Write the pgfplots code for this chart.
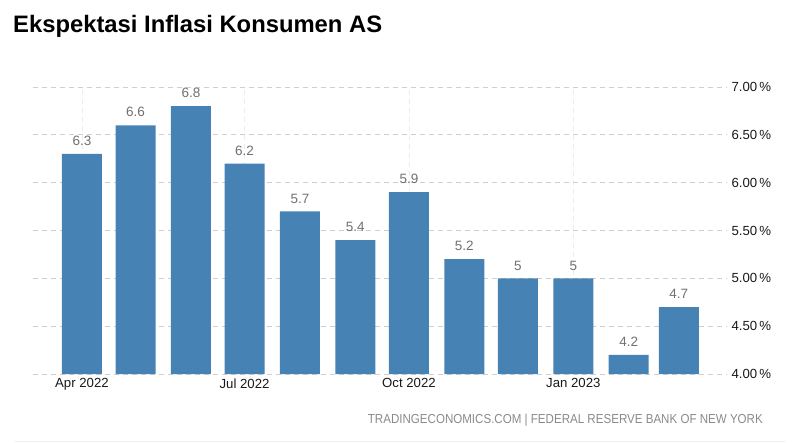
\documentclass[border=0pt]{standalone}
\usepackage{pgfplots}
\pgfplotsset{compat=1.18}
\usepackage{fontspec}
\setmainfont{Liberation Sans}
\definecolor{barblue}{HTML}{4682B4}
\definecolor{gridgray}{HTML}{CFCFCF}
\definecolor{vgridgray}{HTML}{ECECEC}
\definecolor{lblgray}{HTML}{707070}
\definecolor{srcgray}{HTML}{8A8A8A}
\begin{document}
\begin{tikzpicture}[x=1pt,y=1pt]
\path[use as bounding box] (0,0) rectangle (800,442);
\node[anchor=base west, inner sep=0pt, font=\fontsize{23.8}{28}\selectfont\bfseries] at (13,409) {Ekspektasi Inflasi Konsumen AS};
\begin{axis}[
  at={(33pt,68pt)}, anchor=south west,
  scale only axis, width=694pt, height=287pt,
  xmin=-27.4, xmax=361, ymin=4, ymax=7,
  clip=false,
  axis line style={draw=none},
  major tick length=0pt,
  ytick={4,4.5,5,5.5,6,6.5,7},
  yticklabel pos=right,
  yticklabel={\pgfmathprintnumber[fixed,fixed zerofill,precision=2,assume math mode=true]{\tick}\,\%},
  /pgf/number format/assume math mode=true,
  xtick={0,91,183,275},
  xticklabels={Apr 2022,Jul 2022,Oct 2022,Jan 2023},
  ymajorgrids, xmajorgrids,
  y grid style={gridgray, dash pattern=on 5pt off 4pt, line width=0.7pt},
  x grid style={vgridgray, dash pattern=on 5pt off 4pt, line width=0.7pt},
  ticklabel style={font=\fontsize{13.2}{15}\selectfont, text=black!90},
  yticklabel style={xshift=1pt},
  xticklabel style={yshift=-1pt},
  nodes near coords,
  nodes near coords style={font=\fontsize{13.5}{14}\selectfont, text=lblgray, anchor=south, inner sep=0pt, yshift=8pt},
]
\addplot[ybar, bar width=22.4, fill=barblue, draw=none, bar shift=0pt] coordinates {
  (0,6.3) (30,6.6) (61,6.8) (91,6.2) (122,5.7) (153,5.4)
  (183,5.9) (214,5.2) (244,5) (275,5) (306,4.2) (334,4.7)
};
\end{axis}
\node[anchor=east, inner sep=0pt, text=srcgray, font=\fontsize{13}{15}\selectfont] at (763,22) {\scalebox{0.89}[1]{TRADINGECONOMICS.COM | FEDERAL RESERVE BANK OF NEW YORK}};
\draw[color=black!6, line width=0.8pt] (14,1) -- (786,1);
\end{tikzpicture}
\end{document}
